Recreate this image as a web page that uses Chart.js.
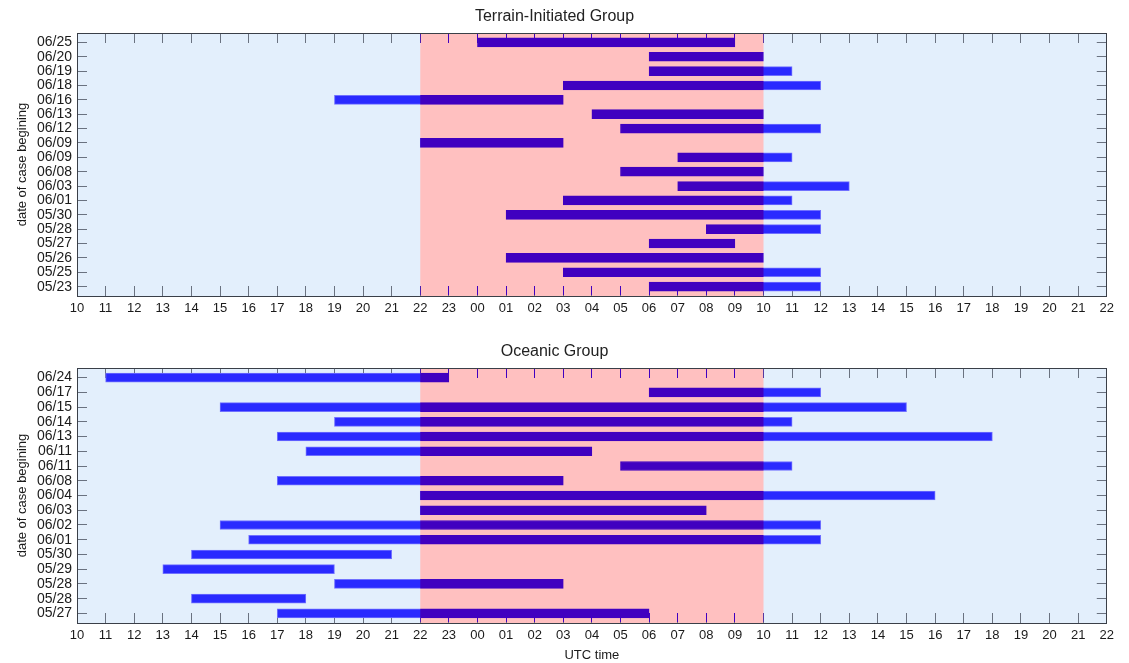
<!DOCTYPE html>
<html>
<head>
<meta charset="utf-8">
<script src="https://cdn.jsdelivr.net/npm/chart.js@4/dist/chart.umd.min.js"></script>
<style>
  body { margin: 0; background: #fff; }
  .box { position: absolute; left: 0; width: 1129px; }
</style>
</head>
<body>
<div class="box" style="top:0;height:330px"><canvas id="terrain" width="1129" height="330"></canvas></div>
<div class="box" style="top:330px;height:333px"><canvas id="oceanic" width="1129" height="333"></canvas></div>
<script>
// hours counted from 10 UTC of the first day (24 = 00 UTC next day)
var xTickLabels = ['10','11','12','13','14','15','16','17','18','19','20','21','22','23',
  '00','01','02','03','04','05','06','07','08','09','10','11','12','13','14','15','16','17','18','19','20','21','22'];

var terrainDates = ['06/25','06/20','06/19','06/18','06/16','06/13','06/12','06/09','06/09',
  '06/08','06/03','06/01','05/30','05/28','05/27','05/26','05/25','05/23'];
var terrainStart = [24, 30, 30, 27, 19, 28, 29, 22, 31, 29, 31, 27, 25, 32, 30, 25, 27, 30];
var terrainEnd   = [33, 34, 35, 36, 27, 34, 36, 27, 35, 34, 37, 35, 36, 36, 33, 34, 36, 36];

var oceanicDates = ['06/24','06/17','06/15','06/14','06/13','06/11','06/11','06/08','06/04',
  '06/03','06/02','06/01','05/30','05/29','05/28','05/28','05/27'];
var oceanicStart = [11, 30, 15, 19, 17, 18, 29, 17, 22, 22, 15, 16, 14, 13, 19, 14, 17];
var oceanicEnd   = [23, 36, 39, 35, 42, 28, 35, 27, 40, 32, 36, 36, 21, 19, 27, 18, 30];

// shaded night window 22 UTC -> 10 UTC
var nightStart = 22, nightEnd = 34;

Chart.defaults.font.family = "'Liberation Sans', Arial, sans-serif";
Chart.defaults.color = '#1a1a1a';

function bandRect(chart) {
  var a = chart.chartArea, x = chart.scales.x;
  var x1 = x.getPixelForValue(nightStart), x2 = x.getPixelForValue(nightEnd);
  return [x1, a.top, x2 - x1, a.bottom - a.top];
}

var shading = {
  id: 'shading',
  afterDatasetsDraw: function (chart) {
    var a = chart.chartArea, ctx = chart.ctx, r = bandRect(chart);
    ctx.save();
    ctx.beginPath();
    ctx.rect(a.left, a.top + 1, a.right - a.left, a.bottom - a.top - 2);
    ctx.clip();
    // bars seen through the pink window turn purple
    ctx.globalCompositeOperation = 'source-atop';
    ctx.fillStyle = '#4000c0';
    ctx.fillRect(r[0], r[1], r[2], r[3]);
    ctx.restore();
  },
  afterDraw: function (chart) {
    // backgrounds painted behind everything already drawn
    var a = chart.chartArea, ctx = chart.ctx, r = bandRect(chart);
    ctx.save();
    ctx.globalCompositeOperation = 'destination-over';
    ctx.fillStyle = '#ffc0c0';
    ctx.fillRect(r[0], r[1], r[2], r[3]);
    ctx.fillStyle = '#e3effc';
    ctx.fillRect(a.left, a.top, a.right - a.left, a.bottom - a.top);
    ctx.fillStyle = '#ffffff';
    ctx.fillRect(0, 0, chart.width, chart.height);
    ctx.restore();
  }
};

function makeChart(id, title, titlePad, dates, starts, ends, xHeight, showXTitle) {
  var bars = dates.map(function (d, i) { return { x: [starts[i], ends[i]], y: i }; });
  var rowTicks = function (s) { s.ticks = dates.map(function (d, i) { return { value: i }; }); };
  var tickGrid = { drawOnChartArea: false, tickLength: -10, color: '#6a7280', lineWidth: 1, offset: false };
  var border = { color: '#3a3f48', width: 1 };
  return new Chart(document.getElementById(id), {
    type: 'bar',
    data: {
      datasets: [{
        data: bars,
        backgroundColor: '#2a2aff',
        borderColor: '#7070ff',
        borderWidth: 1,
        borderSkipped: false,
        barThickness: 9
      }]
    },
    options: {
      indexAxis: 'y',
      responsive: false,
      animation: false,
      layout: { padding: { left: 0, right: 20, top: 0, bottom: 0 } },
      plugins: {
        legend: { display: false },
        tooltip: { enabled: false },
        title: {
          display: true, text: title, color: '#222',
          font: { size: 16, weight: 'normal' },
          padding: titlePad
        }
      },
      scales: {
        x: {
          type: 'linear', position: 'bottom', min: 10, max: 46,
          grid: tickGrid, border: border,
          ticks: {
            stepSize: 1, autoSkip: false, maxRotation: 0, padding: 15,
            font: { size: 13 },
            callback: function (v) { return xTickLabels[v - 10]; }
          },
          title: { display: showXTitle, text: 'UTC time', font: { size: 13 }, padding: { top: 0, bottom: 0 } },
          afterFit: function (s) { s.height = xHeight; }
        },
        x2: {
          type: 'linear', position: 'top', min: 10, max: 46,
          grid: tickGrid, border: border,
          ticks: { stepSize: 1, display: false },
          afterFit: function (s) { s.height = 0; }
        },
        y: {
          type: 'linear', position: 'left', reverse: true, offset: false,
          min: -0.65, max: dates.length - 1 + 0.65,
          grid: tickGrid, border: border,
          afterBuildTicks: rowTicks,
          ticks: {
            padding: 15, font: { size: 14 }, autoSkip: false,
            callback: function (v) { return dates[v]; }
          },
          title: { display: true, text: 'date of case begining', font: { size: 13 }, padding: { top: 15, bottom: 0 } },
          afterFit: function (s) { s.width = 77; }
        },
        y2: {
          type: 'linear', position: 'right', reverse: true, offset: false,
          min: -0.65, max: dates.length - 1 + 0.65,
          grid: tickGrid, border: border,
          afterBuildTicks: rowTicks,
          ticks: { display: false, autoSkip: false },
          afterFit: function (s) { s.width = 0; }
        }
      }
    },
    plugins: [shading]
  });
}

makeChart('terrain', 'Terrain-Initiated Group', { top: 7, bottom: 6.8 },
  terrainDates, terrainStart, terrainEnd, 34, false);
makeChart('oceanic', 'Oceanic Group', { top: 12, bottom: 6.8 },
  oceanicDates, oceanicStart, oceanicEnd, 40, true);
</script>
</body>
</html>
